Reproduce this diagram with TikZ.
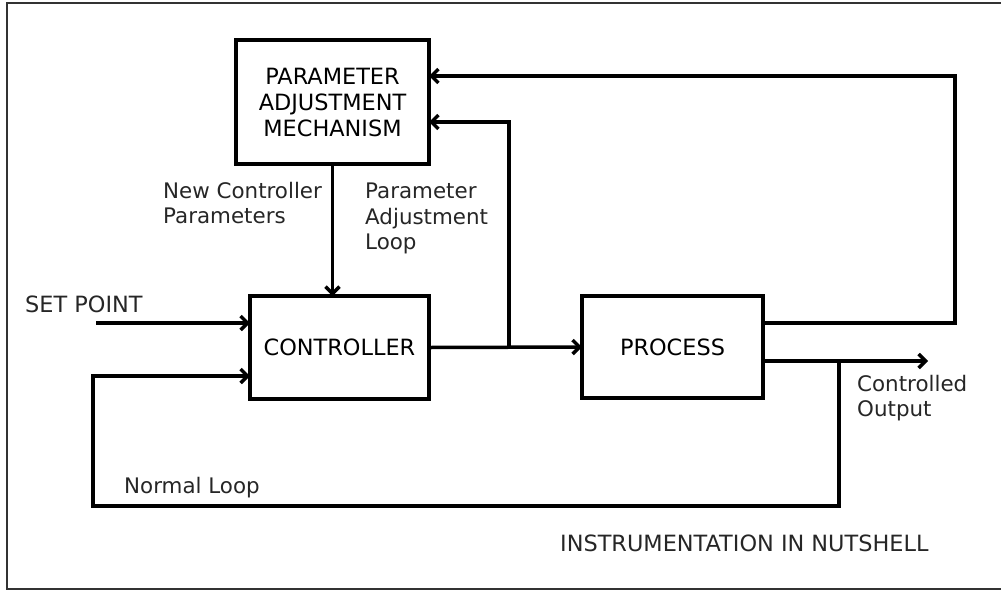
\documentclass[tikz,border=0pt]{standalone}
\usepackage{fontspec}
\setmainfont{DejaVu Sans}
\usepackage{tikz}
\usetikzlibrary{arrows.meta,calc,positioning}
\tikzset{>={Straight Barb[length=7pt,width=14pt]}}

\tikzset{
  blk/.style={draw, line width=3.5pt, inner sep=0pt, outer sep=0pt, align=center,
              font=\fontsize{22.4}{26}\selectfont},
  lbl/.style={inner sep=0pt, align=left, font=\fontsize{22.4}{25.5}\selectfont, text=black!85},
  small lbl/.style={lbl, font=\fontsize{21.4}{25.5}\selectfont},
  wire/.style={line width=3.5pt}
}

\begin{document}
\begin{tikzpicture}[x=1pt,y=-1pt]
                \useasboundingbox (0,0) rectangle (1001,590);
                \draw[line width=1.5pt, black!80] (1003,3) -- (7,3) -- (7,589) -- (1003,589);

                % blocks
                \node[blk, minimum width=193pt, minimum height=124pt] (pam) at (332.5,102) {PARAMETER\\ADJUSTMENT\\MECHANISM};
                \node[blk, minimum width=179pt, minimum height=103pt] (ctrl) at (339.5,347.5) {CONTROLLER};
                \node[blk, minimum width=181pt, minimum height=102pt] (proc) at (672.5,347) {PROCESS};

                % free ends
                \coordinate (sp) at (96,323);
                \coordinate (fb) at (93,376);
                \coordinate (bl) at (93,506);
                \coordinate (out) at (928,361);
                \coordinate (tap) at (839,361);
                \coordinate (rt) at (955,76);
                \coordinate (br) at (509,347.5);

                % connectors
                \draw[wire,->] (pam.south) -- (pam.south |- ctrl.north);
                \draw[wire,->] (sp) -- (sp -| ctrl.west);
                \draw[wire,->] (ctrl.east) -- (proc.west);
                \draw[wire,->] (br) |- (pam.east |- 0,122);
                \draw[wire,->] (proc.east |- 0,323) -| (rt) -- (rt -| pam.east);
                \draw[wire,->] (out -| proc.east) -- (out);
                \draw[wire,->] (tap) |- (bl) |- (fb -| ctrl.west);

                % labels
                \node[lbl, anchor=base west] (splbl) at (25,312) {SET POINT};
                \node[small lbl, anchor=north west] (ncp) at (163,182) {New Controller\\Parameters};
                \node[small lbl, anchor=north west] (pal) at (365,183) {Parameter\\Adjustment\\Loop};
                \node[small lbl, anchor=north west] (colbl) at (857,375) {Controlled\\Output};
                \node[small lbl, anchor=base west] (nl) at (124,493) {Normal Loop};
                \node[lbl, anchor=base west] (title) at (560,551) {INSTRUMENTATION IN NUTSHELL};

            \end{tikzpicture}
\end{document}
